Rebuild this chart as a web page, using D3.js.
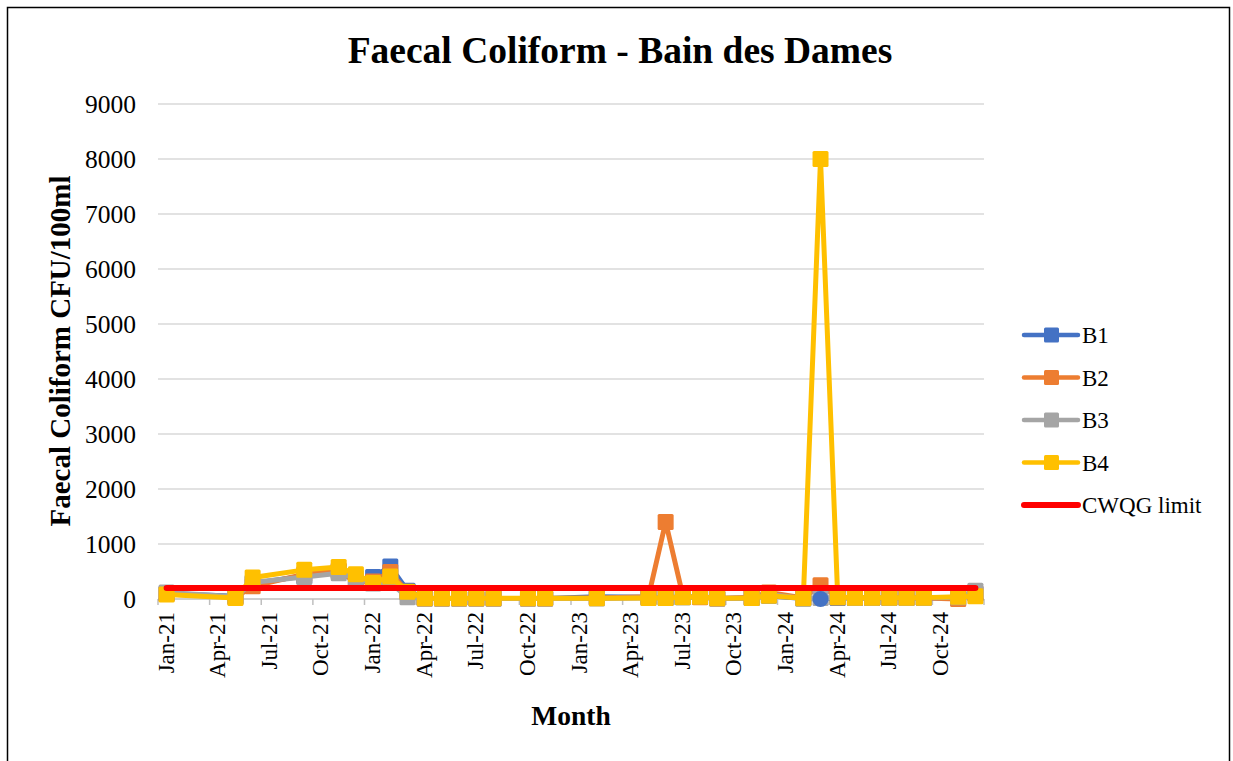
<!DOCTYPE html>
<html>
<head>
<meta charset="utf-8">
<script src="https://cdn.jsdelivr.net/npm/d3@7"></script>
<style>
  body { margin: 0; background: #fff; }
  text { font-family: "Liberation Serif", "Times New Roman", serif; fill: #000; }
</style>
</head>
<body>
<svg id="chart" width="1233" height="761"></svg>
<script>
// Sampled months (Excel date axis, monthly base unit)
var sampleMonths = ['Jan-21', 'May-21', 'Jun-21', 'Sep-21', 'Nov-21', 'Dec-21', 'Jan-22', 'Feb-22',
  'Mar-22', 'Apr-22', 'May-22', 'Jun-22', 'Jul-22', 'Aug-22', 'Oct-22', 'Nov-22', 'Feb-23',
  'May-23', 'Jun-23', 'Jul-23', 'Aug-23', 'Sep-23', 'Nov-23', 'Dec-23', 'Feb-24', 'Mar-24',
  'Apr-24', 'May-24', 'Jun-24', 'Jul-24', 'Aug-24', 'Sep-24', 'Nov-24', 'Dec-24'];

var b1 = [100, 50, 280, 420, 500, 330, 400, 590, 150, 10, 10, 10, 10, 10, 10, 10, 40,
  30, 20, 30, 40, 10, 20, 60, 10, 0, 20, 20, 20, 20, 20, 20, 20, 100];
var b2 = [90, 30, 230, 450, 520, 300, 320, 490, 120, 10, 10, 10, 10, 10, 10, 10, 20,
  40, 1400, 60, 30, 10, 30, 120, 20, 250, 30, 20, 20, 20, 20, 20, 0, 100];
var b3 = [120, 40, 300, 400, 470, 380, 280, 300, 30, 10, 10, 10, 10, 10, 10, 10, 10,
  20, 30, 40, 50, 10, 20, 80, 10, 20, 30, 20, 20, 20, 20, 20, 30, 150];
var b4 = [80, 20, 390, 530, 580, 450, 290, 410, 130, 15, 15, 15, 15, 15, 15, 15, 15,
  20, 20, 30, 40, 15, 20, 60, 15, 8000, 30, 25, 25, 25, 25, 25, 40, 50];
var cwqgLimit = 200;

var tickLabels = ['Jan-21', 'Apr-21', 'Jul-21', 'Oct-21', 'Jan-22', 'Apr-22', 'Jul-22', 'Oct-22',
  'Jan-23', 'Apr-23', 'Jul-23', 'Oct-23', 'Jan-24', 'Apr-24', 'Jul-24', 'Oct-24'];
var yTicks = [0, 1000, 2000, 3000, 4000, 5000, 6000, 7000, 8000, 9000];

var series = [
  {name: 'B1', values: b1, color: '#4472C4'},
  {name: 'B2', values: b2, color: '#ED7D31'},
  {name: 'B3', values: b3, color: '#A5A5A5'},
  {name: 'B4', values: b4, color: '#FFC000'}
];

var svg = d3.select('#chart');
var fmt = d3.timeFormat('%b-%y');
var allMonths = d3.timeMonth.range(new Date(2021, 0, 1), new Date(2025, 0, 1)).map(fmt);

var x = d3.scaleBand().domain(allMonths).range([158, 984]).padding(0);
var y = d3.scaleLinear().domain([0, 9000]).range([599, 104]);
var cx = function(m) { return x(m) + x.bandwidth() / 2; };

// chart border
svg.append('rect')
  .attr('x', 7.5).attr('y', 7.5).attr('width', 1222).attr('height', 770)
  .attr('fill', 'none').attr('stroke', '#000').attr('stroke-width', 1.5);

// gridlines
svg.append('g').selectAll('line')
  .data(yTicks.slice(1))
  .join('line')
  .attr('x1', 158).attr('x2', 984)
  .attr('y1', function(d) { return y(d); }).attr('y2', function(d) { return y(d); })
  .attr('stroke', '#d9d9d9').attr('stroke-width', 1.5);

// y tick labels
svg.append('g').selectAll('text')
  .data(yTicks)
  .join('text')
  .attr('x', 136).attr('y', function(d) { return y(d); })
  .attr('dy', '0.35em')
  .attr('text-anchor', 'end')
  .style('font-size', '25.5px')
  .text(function(d) { return d; });

// x axis line + ticks
svg.append('line')
  .attr('x1', 158).attr('x2', 984).attr('y1', 599).attr('y2', 599)
  .attr('stroke', '#bfbfbf').attr('stroke-width', 1.5);

svg.append('g').selectAll('line')
  .data(tickLabels.concat(['end']))
  .join('line')
  .attr('x1', function(d) { return d === 'end' ? 984 : x(d); })
  .attr('x2', function(d) { return d === 'end' ? 984 : x(d); })
  .attr('y1', 599).attr('y2', 605)
  .attr('stroke', '#bfbfbf').attr('stroke-width', 1.5);

svg.append('g').selectAll('text')
  .data(tickLabels)
  .join('text')
  .attr('transform', function(d) { return 'translate(' + (cx(d) + 7) + ',612) rotate(-90)'; })
  .attr('text-anchor', 'end')
  .style('font-size', '23px')
  .text(function(d) { return d; });

// series lines and markers
var line = d3.line()
  .x(function(d) { return cx(d.m); })
  .y(function(d) { return y(d.v); });

var circlePoints = [];
series.forEach(function(s) {
  var pts = sampleMonths.map(function(m, i) { return {m: m, v: s.values[i]}; });
  var g = svg.append('g');
  g.append('path')
    .datum(pts)
    .attr('d', line)
    .attr('fill', 'none')
    .attr('stroke', s.color)
    .attr('stroke-width', 5)
    .attr('stroke-linejoin', 'round')
    .attr('stroke-linecap', 'round');
  pts.forEach(function(p) {
    if (s.name === 'B1' && p.m === 'Mar-24') {
      circlePoints.push({m: p.m, v: p.v, color: s.color});
    } else {
      g.append('rect')
        .attr('x', cx(p.m) - 8).attr('y', y(p.v) - 8)
        .attr('width', 16).attr('height', 16)
        .attr('rx', 1.5)
        .attr('fill', s.color);
    }
  });
});

// the one B1 point drawn as a round marker, sitting on top
svg.append('g').selectAll('circle')
  .data(circlePoints)
  .join('circle')
  .attr('cx', function(d) { return cx(d.m); })
  .attr('cy', function(d) { return y(d.v); })
  .attr('r', 8)
  .attr('fill', function(d) { return d.color; });

// CWQG limit
svg.append('path')
  .datum(sampleMonths)
  .attr('d', d3.line()
    .x(function(m) { return cx(m); })
    .y(function() { return y(cwqgLimit); }))
  .attr('fill', 'none')
  .attr('stroke', '#FF0000')
  .attr('stroke-width', 6)
  .attr('stroke-linecap', 'round');

// title and axis titles
svg.append('text')
  .attr('x', 620).attr('y', 63)
  .attr('text-anchor', 'middle')
  .style('font-size', '37.5px').style('font-weight', 'bold')
  .text('Faecal Coliform - Bain des Dames');

svg.append('text')
  .attr('transform', 'translate(70,351) rotate(-90)')
  .attr('text-anchor', 'middle')
  .style('font-size', '29px').style('font-weight', 'bold')
  .text('Faecal Coliform CFU/100ml');

svg.append('text')
  .attr('x', 571).attr('y', 725)
  .attr('text-anchor', 'middle')
  .style('font-size', '27.5px').style('font-weight', 'bold')
  .text('Month');

// legend
var legendItems = series.map(function(s) { return {name: s.name, color: s.color, marker: true}; })
  .concat([{name: 'CWQG limit', color: '#FF0000', marker: false}]);

var lg = svg.append('g').selectAll('g')
  .data(legendItems)
  .join('g')
  .attr('transform', function(d, i) { return 'translate(1022,' + (335 + i * 42.5) + ')'; });

lg.append('line')
  .attr('x1', 2).attr('x2', 56).attr('y1', 0).attr('y2', 0)
  .attr('stroke', function(d) { return d.color; })
  .attr('stroke-width', function(d) { return d.marker ? 4.5 : 6; })
  .attr('stroke-linecap', 'round');

lg.filter(function(d) { return d.marker; })
  .append('rect')
  .attr('x', 22).attr('y', -7.5).attr('width', 15).attr('height', 15)
  .attr('rx', 1.5)
  .attr('fill', function(d) { return d.color; });

lg.append('text')
  .attr('x', 60).attr('y', 0).attr('dy', '0.35em')
  .style('font-size', '23px')
  .text(function(d) { return d.name; });
</script>
</body>
</html>
